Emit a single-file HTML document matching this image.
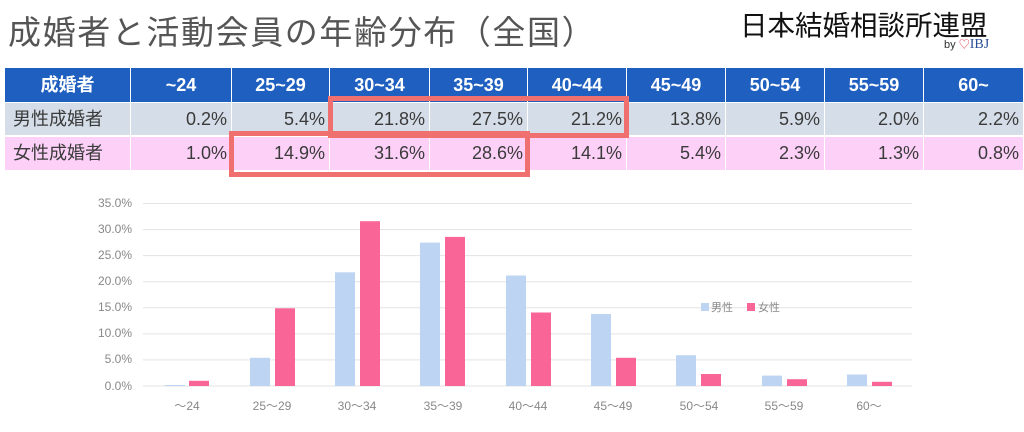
<!DOCTYPE html>
<html><head><meta charset="utf-8"><style>
body{margin:0;width:1024px;height:432px;background:#fff;overflow:hidden;position:relative;font-family:"Liberation Sans","Noto Sans CJK JP",sans-serif}
.t{position:absolute;left:8px;top:6px;font-size:33px;color:#555;letter-spacing:1.6px}
.logo{position:absolute;left:740px;top:3px;font-size:27.5px;color:#111}
.by{position:absolute;left:944px;top:36px;font-size:11px;color:#333}
.by b{color:#2a4f9a;font-family:"Liberation Serif",serif;font-size:14px;font-weight:normal}
.by i{color:#e04050;font-style:normal}
.row{position:absolute;left:5px;width:1019px;display:flex}
.row div{box-sizing:border-box;border-right:1px solid #fff;text-align:right;padding-right:4px;font-size:18px;color:#3a3a3a}
.h div{background:#1f5fbf;color:#fff;font-weight:bold;text-align:center;padding:0}
.m div{background:#d5dde8}
.f div{background:#fdd0f8}
.row div:first-child{text-align:left;padding-left:8px}
.h div:first-child{text-align:center;padding-left:0}
.box{position:absolute;border:5px solid #f07070;box-sizing:border-box}
</style></head><body>
<div class="t">成婚者と活動会員の年齢分布（全国）</div>
<div class="logo">日本結婚相談所連盟</div>
<div class="by">by <i>♡</i><b>IBJ</b></div>
<div class="row h" style="top:68px;height:34px;line-height:34px">
<div style="width:126px">成婚者</div><div style="width:101px">~24</div><div style="width:98px">25~29</div><div style="width:100px">30~34</div><div style="width:98px">35~39</div><div style="width:99px">40~44</div><div style="width:99px">45~49</div><div style="width:99px">50~54</div><div style="width:99px">55~59</div><div style="width:100px">60~</div></div>
<div class="row m" style="top:103px;height:32px;line-height:32px">
<div style="width:126px">男性成婚者</div><div style="width:101px">0.2%</div><div style="width:98px">5.4%</div><div style="width:100px">21.8%</div><div style="width:98px">27.5%</div><div style="width:99px">21.2%</div><div style="width:99px">13.8%</div><div style="width:99px">5.9%</div><div style="width:99px">2.0%</div><div style="width:100px">2.2%</div></div>
<div class="row f" style="top:137px;height:33px;line-height:33px">
<div style="width:126px">女性成婚者</div><div style="width:101px">1.0%</div><div style="width:98px">14.9%</div><div style="width:100px">31.6%</div><div style="width:98px">28.6%</div><div style="width:99px">14.1%</div><div style="width:99px">5.4%</div><div style="width:99px">2.3%</div><div style="width:99px">1.3%</div><div style="width:100px">0.8%</div></div>
<div class="box" style="left:328px;top:96px;width:301px;height:42px"></div>
<div class="box" style="left:229px;top:131px;width:301px;height:46px"></div>
<svg style="position:absolute;left:0;top:0" width="1024" height="432" font-family="Liberation Sans, Noto Sans CJK JP, sans-serif">
<g stroke="#e3e3e3" stroke-width="1">
<line x1="143" x2="912" y1="203.5" y2="203.5"/><line x1="143" x2="912" y1="229.6" y2="229.6"/><line x1="143" x2="912" y1="255.6" y2="255.6"/><line x1="143" x2="912" y1="281.7" y2="281.7"/><line x1="143" x2="912" y1="307.8" y2="307.8"/><line x1="143" x2="912" y1="333.9" y2="333.9"/><line x1="143" x2="912" y1="359.9" y2="359.9"/><line x1="143" x2="912" y1="386" y2="386"/></g>
<g font-size="12" fill="#888" text-anchor="end">
<text x="132" y="207">35.0%</text><text x="132" y="233">30.0%</text><text x="132" y="259">25.0%</text><text x="132" y="285">20.0%</text><text x="132" y="311">15.0%</text><text x="132" y="337">10.0%</text><text x="132" y="363">5.0%</text><text x="132" y="390">0.0%</text></g>
<g font-size="12" fill="#888" text-anchor="middle">
<text x="187" y="410">～24</text><text x="272" y="410">25～29</text><text x="357" y="410">30～34</text><text x="443" y="410">35～39</text><text x="528" y="410">40～44</text><text x="613" y="410">45～49</text><text x="699" y="410">50～54</text><text x="784" y="410">55～59</text><text x="869" y="410">60～</text></g>
<rect x="701" y="303" width="8" height="8" fill="#bdd5f2"/><text x="711" y="311" font-size="11" fill="#888">男性</text>
<rect x="747" y="303" width="8" height="8" fill="#f96596"/><text x="758" y="311" font-size="11" fill="#888">女性</text>
<g fill="#bdd5f2">
<rect x="165" y="385" width="20" height="1"/><rect x="250" y="357.8" width="20" height="28.2"/><rect x="335" y="272.3" width="20" height="113.7"/><rect x="420" y="242.6" width="20" height="143.4"/><rect x="506" y="275.5" width="20" height="110.5"/><rect x="591" y="314" width="20" height="72"/><rect x="676" y="355.2" width="20" height="30.8"/><rect x="762" y="375.6" width="20" height="10.4"/><rect x="847" y="374.5" width="20" height="11.5"/></g>
<g fill="#f96596">
<rect x="189" y="380.8" width="20" height="5.2"/><rect x="275" y="308.3" width="20" height="77.7"/><rect x="360" y="221.2" width="20" height="164.8"/><rect x="445" y="236.9" width="20" height="149.1"/><rect x="531" y="312.5" width="20" height="73.5"/><rect x="616" y="357.8" width="20" height="28.2"/><rect x="701" y="374" width="20" height="12"/><rect x="787" y="379.2" width="20" height="6.8"/><rect x="872" y="381.8" width="20" height="4.2"/></g>
</svg>
</body></html>
